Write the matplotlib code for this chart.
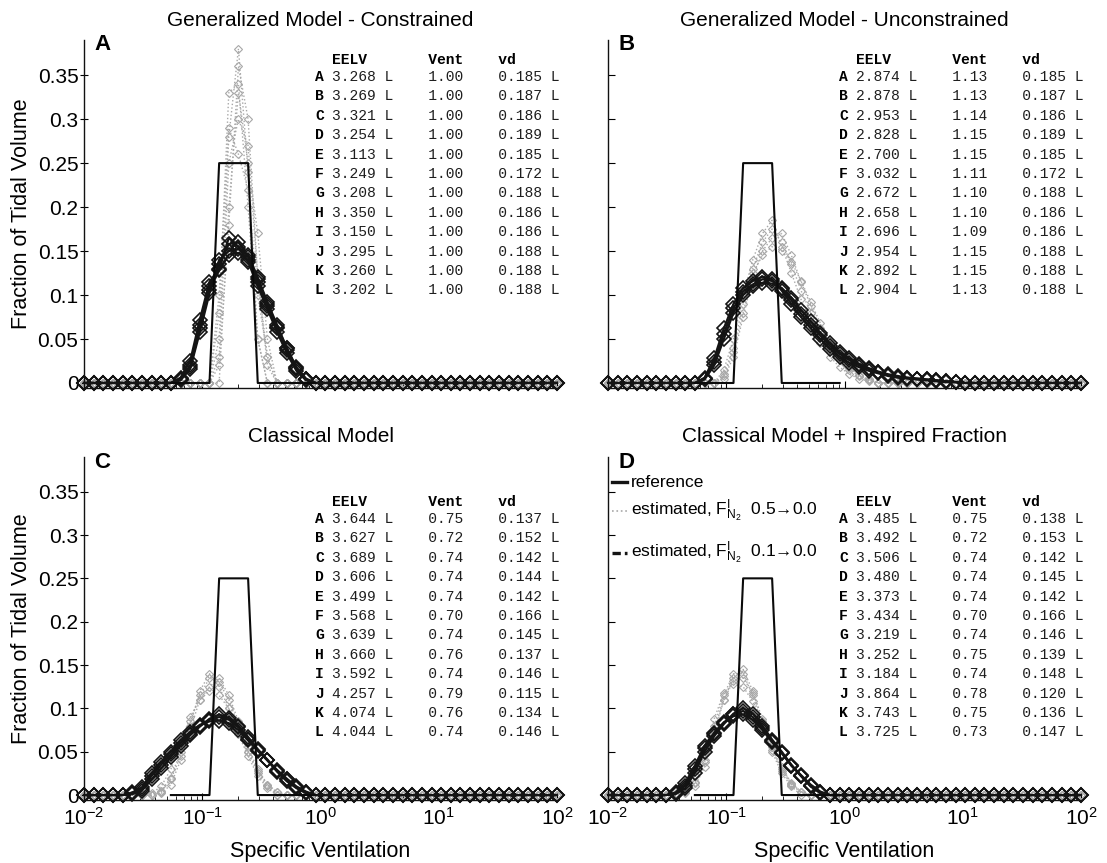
import numpy as np
import matplotlib
matplotlib.use("Agg")
import matplotlib.pyplot as plt
from matplotlib.lines import Line2D
from matplotlib.ticker import FixedLocator, LogLocator, NullFormatter

plt.rcParams["font.family"] = ["Liberation Sans", "DejaVu Sans"]
plt.rcParams["mathtext.fontset"] = "custom"
plt.rcParams["mathtext.rm"] = "Liberation Sans"
plt.rcParams["mathtext.it"] = "Liberation Sans:italic"
plt.rcParams["mathtext.bf"] = "Liberation Sans:bold"

# ---------------------------------------------------------------- data
# compartment grid of specific ventilation (log spaced)
ventilation = np.logspace(-2, 2, 50)

# true distribution, listed from compartment 9 onwards
reference_start = 9
reference_values = [0, 0, 0, 0, 0, 0.25, 0.25, 0.25, 0.25, 0, 0, 0, 0, 0, 0, 0]

cases = ["A", "B", "C", "D", "E", "F", "G", "H", "I", "J", "K", "L"]

# Generalized model - constrained
a_dark_start = 10
a_dark = [
    [0.005, 0.020, 0.066, 0.110, 0.135, 0.158, 0.160, 0.143, 0.115, 0.088, 0.062, 0.038, 0.016, 0.004],
    [0.003, 0.016, 0.058, 0.102, 0.140, 0.150, 0.152, 0.146, 0.120, 0.092, 0.066, 0.040, 0.018, 0.005],
    [0.006, 0.025, 0.072, 0.115, 0.130, 0.165, 0.155, 0.138, 0.110, 0.084, 0.058, 0.034, 0.014, 0.003],
    [0.004, 0.018, 0.062, 0.106, 0.128, 0.146, 0.148, 0.140, 0.118, 0.090, 0.064, 0.040, 0.017, 0.004],
]
a_gray_start = 12
a_gray = [
    [0.0, 0.0, 0.05, 0.28, 0.38, 0.24, 0.05, 0.0, 0.0],
    [0.0, 0.0, 0.08, 0.33, 0.34, 0.20, 0.05, 0.0, 0.0],
    [0.0, 0.0, 0.03, 0.25, 0.30, 0.27, 0.12, 0.03, 0.0],
    [0.0, 0.0, 0.10, 0.29, 0.26, 0.22, 0.10, 0.03, 0.0],
    [0.0, 0.0, 0.02, 0.18, 0.36, 0.30, 0.12, 0.02, 0.0],
    [0.0, 0.0, 0.00, 0.20, 0.33, 0.25, 0.17, 0.05, 0.0],
]
a_eelv = [3.268, 3.269, 3.321, 3.254, 3.113, 3.249, 3.208, 3.350, 3.150, 3.295, 3.260, 3.202]
a_vent = [1.00, 1.00, 1.00, 1.00, 1.00, 1.00, 1.00, 1.00, 1.00, 1.00, 1.00, 1.00]
a_vd = [0.185, 0.187, 0.186, 0.189, 0.185, 0.172, 0.188, 0.186, 0.186, 0.188, 0.188, 0.188]

# Generalized model - unconstrained
b_dark_start = 10
b_dark = [
    [0.005, 0.024, 0.056, 0.085, 0.104, 0.112, 0.118, 0.116, 0.107, 0.094, 0.079, 0.066, 0.054, 0.042,
     0.033, 0.026, 0.020, 0.016, 0.012, 0.009, 0.007, 0.006, 0.005, 0.004, 0.003, 0.002, 0.001],
    [0.004, 0.020, 0.050, 0.080, 0.100, 0.110, 0.114, 0.113, 0.108, 0.097, 0.083, 0.070, 0.057, 0.045,
     0.035, 0.028, 0.022, 0.017, 0.013, 0.010, 0.008, 0.006, 0.005, 0.004, 0.003, 0.002, 0.001],
    [0.006, 0.028, 0.062, 0.090, 0.108, 0.116, 0.121, 0.118, 0.105, 0.090, 0.075, 0.062, 0.050, 0.039,
     0.030, 0.023, 0.018, 0.014, 0.011, 0.008, 0.006, 0.005, 0.004, 0.003, 0.002, 0.001, 0.001],
]
b_gray_start = 11
b_gray = [
    [0.0, 0.010, 0.040, 0.090, 0.130, 0.160, 0.175, 0.160, 0.135, 0.105, 0.080, 0.058, 0.040, 0.026, 0.015, 0.008, 0.003],
    [0.0, 0.005, 0.030, 0.075, 0.120, 0.150, 0.165, 0.170, 0.145, 0.115, 0.088, 0.062, 0.043, 0.028, 0.017, 0.009, 0.004],
    [0.0, 0.015, 0.050, 0.100, 0.140, 0.170, 0.185, 0.155, 0.125, 0.095, 0.068, 0.046, 0.030, 0.018, 0.010, 0.005, 0.002],
    [0.0, 0.008, 0.035, 0.080, 0.125, 0.145, 0.155, 0.150, 0.138, 0.116, 0.092, 0.068, 0.047, 0.030, 0.018, 0.009, 0.004],
]
b_eelv = [2.874, 2.878, 2.953, 2.828, 2.700, 3.032, 2.672, 2.658, 2.696, 2.954, 2.892, 2.904]
b_vent = [1.13, 1.13, 1.14, 1.15, 1.15, 1.11, 1.10, 1.10, 1.09, 1.15, 1.15, 1.13]
b_vd = [0.185, 0.187, 0.186, 0.189, 0.185, 0.172, 0.188, 0.186, 0.186, 0.188, 0.188, 0.188]

# Classical model
c_dark_start = 5
c_dark = [
    [0.002, 0.007, 0.022, 0.035, 0.047, 0.060, 0.071, 0.080, 0.087, 0.090, 0.087, 0.078, 0.065, 0.052, 0.041, 0.028, 0.018, 0.009, 0.003],
    [0.001, 0.005, 0.018, 0.031, 0.044, 0.057, 0.069, 0.079, 0.088, 0.093, 0.089, 0.080, 0.067, 0.053, 0.040, 0.027, 0.016, 0.008, 0.002],
    [0.003, 0.009, 0.025, 0.038, 0.050, 0.063, 0.073, 0.081, 0.085, 0.086, 0.083, 0.075, 0.063, 0.051, 0.040, 0.029, 0.019, 0.010, 0.004],
]
c_gray_start = 7
c_gray = [
    [0.0, 0.005, 0.020, 0.050, 0.085, 0.115, 0.135, 0.130, 0.110, 0.080, 0.050, 0.025, 0.010, 0.0],
    [0.0, 0.002, 0.012, 0.040, 0.075, 0.110, 0.125, 0.135, 0.115, 0.085, 0.055, 0.030, 0.012, 0.003],
    [0.002, 0.010, 0.030, 0.060, 0.090, 0.110, 0.120, 0.115, 0.100, 0.075, 0.050, 0.028, 0.012, 0.004],
    [0.0, 0.004, 0.018, 0.045, 0.080, 0.120, 0.140, 0.125, 0.100, 0.070, 0.045, 0.022, 0.008, 0.0],
]
c_eelv = [3.644, 3.627, 3.689, 3.606, 3.499, 3.568, 3.639, 3.660, 3.592, 4.257, 4.074, 4.044]
c_vent = [0.75, 0.72, 0.74, 0.74, 0.74, 0.70, 0.74, 0.76, 0.74, 0.79, 0.76, 0.74]
c_vd = [0.137, 0.152, 0.142, 0.144, 0.142, 0.166, 0.145, 0.137, 0.146, 0.115, 0.134, 0.146]

# Classical model + inspired fraction
d_dark_start = 7
d_dark = [
    [0.002, 0.011, 0.030, 0.054, 0.070, 0.083, 0.093, 0.097, 0.090, 0.077, 0.062, 0.049, 0.034, 0.022, 0.010, 0.003],
    [0.001, 0.008, 0.026, 0.050, 0.068, 0.082, 0.094, 0.100, 0.094, 0.080, 0.064, 0.050, 0.035, 0.022, 0.010, 0.002],
    [0.003, 0.014, 0.034, 0.057, 0.072, 0.084, 0.091, 0.093, 0.087, 0.075, 0.061, 0.048, 0.034, 0.023, 0.012, 0.004],
]
d_gray_start = 7
d_gray = [
    [0.0, 0.005, 0.015, 0.040, 0.080, 0.115, 0.140, 0.140, 0.115, 0.080, 0.050, 0.025, 0.010, 0.0],
    [0.0, 0.002, 0.010, 0.032, 0.070, 0.110, 0.135, 0.145, 0.120, 0.085, 0.055, 0.028, 0.012, 0.003],
    [0.002, 0.008, 0.022, 0.050, 0.088, 0.118, 0.128, 0.125, 0.108, 0.080, 0.052, 0.030, 0.013, 0.004],
    [0.0, 0.004, 0.014, 0.038, 0.075, 0.110, 0.132, 0.135, 0.118, 0.088, 0.058, 0.032, 0.014, 0.004],
]
d_eelv = [3.485, 3.492, 3.506, 3.480, 3.373, 3.434, 3.219, 3.252, 3.184, 3.864, 3.743, 3.725]
d_vent = [0.75, 0.72, 0.74, 0.74, 0.74, 0.70, 0.74, 0.75, 0.74, 0.78, 0.75, 0.73]
d_vd = [0.138, 0.153, 0.142, 0.145, 0.142, 0.166, 0.146, 0.139, 0.148, 0.120, 0.136, 0.147]

y_ticks = [0, 0.05, 0.1, 0.15, 0.2, 0.25, 0.3, 0.35]
y_tick_labels = ["0", "0.05", "0.1", "0.15", "0.2", "0.25", "0.3", "0.35"]

# ---------------------------------------------------------------- layout
W, H = 1107, 863
fig = plt.figure(figsize=(W / 100, H / 100), dpi=100)
fig.patch.set_facecolor("white")

DARK = "#141414"
GRAY = "#a8a8a8"
MONO = "Liberation Mono"
TABLE_PT = 10.5
CHAR_PX = 0.6 * TABLE_PT * 100 / 72


def fx(x):
    return x / W


def fy(y):
    return 1 - y / H


def full_profile(start, values):
    y = np.zeros(ventilation.size)
    y[start:start + len(values)] = values
    return y


panels = [
    dict(letter="A", title="Generalized Model - Constrained", box=(84, 40, 557, 388),
         dark=a_dark, dark_start=a_dark_start, gray=a_gray, gray_start=a_gray_start,
         eelv=a_eelv, vent=a_vent, vd=a_vd, left=True, bottom=False),
    dict(letter="B", title="Generalized Model - Unconstrained", box=(608, 40, 1081, 388),
         dark=b_dark, dark_start=b_dark_start, gray=b_gray, gray_start=b_gray_start,
         eelv=b_eelv, vent=b_vent, vd=b_vd, left=False, bottom=False),
    dict(letter="C", title="Classical Model", box=(84, 457, 557, 800),
         dark=c_dark, dark_start=c_dark_start, gray=c_gray, gray_start=c_gray_start,
         eelv=c_eelv, vent=c_vent, vd=c_vd, left=True, bottom=True),
    dict(letter="D", title="Classical Model + Inspired Fraction", box=(608, 457, 1081, 800),
         dark=d_dark, dark_start=d_dark_start, gray=d_gray, gray_start=d_gray_start,
         eelv=d_eelv, vent=d_vent, vd=d_vd, left=False, bottom=True),
]

for p in panels:
    x0, y0, x1, y1 = p["box"]
    ax = fig.add_axes([fx(x0), fy(y1), (x1 - x0) / W, (y1 - y0) / H])

    for vals in p["gray"]:
        ax.plot(ventilation, full_profile(p["gray_start"], vals), ls=":", lw=1.0, color=GRAY,
                marker="D", ms=3.6, mfc="none", mec=GRAY, mew=0.8, clip_on=False, zorder=2)
    for vals in p["dark"]:
        ax.plot(ventilation, full_profile(p["dark_start"], vals), ls="-", lw=1.6, color=DARK,
                marker="D", ms=7, mfc="none", mec=DARK, mew=1.2, clip_on=False, zorder=3)
    ref_x = ventilation[reference_start:reference_start + len(reference_values)]
    ax.plot(ref_x, reference_values, color="#0a0a0a", lw=1.5, zorder=4)

    ax.set_xscale("log")
    ax.set_xlim(1e-2, 1e2)
    ax.set_ylim(-0.0057, 0.39)
    for side in ("top", "right"):
        ax.spines[side].set_visible(False)
    for side in ("left", "bottom"):
        ax.spines[side].set_linewidth(1.0)
        ax.spines[side].set_color("#111111")

    ax.xaxis.set_major_locator(FixedLocator([1e-2, 1e-1, 1e0, 1e1, 1e2]))
    ax.xaxis.set_minor_locator(LogLocator(base=10, subs=np.arange(2, 10)))
    ax.xaxis.set_minor_formatter(NullFormatter())
    ax.tick_params(axis="x", which="major", direction="in", length=5, width=0.8, labelsize=15, pad=5)
    ax.tick_params(axis="x", which="minor", direction="in", length=3, width=0.6)
    if not p["bottom"]:
        ax.xaxis.set_major_formatter(NullFormatter())

    ax.set_yticks(y_ticks)
    if p["left"]:
        ax.set_yticklabels(y_tick_labels)
        ax.tick_params(axis="y", direction="inout", length=6, width=0.8, labelsize=15, pad=1)
    else:
        ax.set_yticklabels([])
        ax.tick_params(axis="y", direction="in", length=5, width=0.8)

    cx = (x0 + x1) / 2
    fig.text(fx(cx), fy(y0 - 20 if y0 < 100 else y0 - 21), p["title"], ha="center", va="center", fontsize=15)
    fig.text(fx(x0 + 10), fy(y0 + 5), p["letter"], ha="left", va="center", fontsize=16, fontweight="bold")

    if p["left"]:
        fig.text(fx(22), fy((y0 + y1) / 2), "Fraction of Tidal Volume", rotation=90,
                 ha="center", va="center", fontsize=15.5)
    if p["bottom"]:
        fig.text(fx(cx), fy(851), "Specific Ventilation", ha="center", va="center", fontsize=15.5)

    # parameter table
    tx = x0 + 231
    row_y0 = y0 + 37 if y0 < 100 else y0 + 62
    head_y = row_y0 - 17
    fig.text(fx(tx + 2 * CHAR_PX), fy(head_y), "EELV       Vent    vd", ha="left", va="center",
             family=MONO, fontsize=TABLE_PT, fontweight="bold")
    for i, case in enumerate(cases):
        ry = row_y0 + 19.4 * i
        fig.text(fx(tx), fy(ry), case, ha="left", va="center", family=MONO,
                 fontsize=TABLE_PT, fontweight="bold")
        row = f"{p['eelv'][i]:.3f} L    {p['vent'][i]:.2f}    {p['vd'][i]:.3f} L"
        fig.text(fx(tx + 2 * CHAR_PX), fy(ry), row, ha="left", va="center", family=MONO,
                 fontsize=TABLE_PT, color="#1e1e1e")

# legend of panel D
legend_rows = [
    (482, dict(color=DARK, lw=2.4, ls="-"), "reference"),
    (511, dict(color=GRAY, lw=1.2, ls=":"), r"estimated, $\mathrm{F}^{\mathrm{I}}_{\mathrm{N}_{2}}$  0.5→0.0"),
    (553, dict(color=DARK, lw=2.4, ls="--", dashes=(2.5, 1.2)), r"estimated, $\mathrm{F}^{\mathrm{I}}_{\mathrm{N}_{2}}$  0.1→0.0"),
]
for ly, style, label in legend_rows:
    fig.add_artist(Line2D([fx(612), fx(627)], [fy(ly), fy(ly)], transform=fig.transFigure, **style))
    fig.text(fx(631), fy(ly), label, ha="left", va="center", fontsize=12.5)

fig.savefig("out.png", dpi=100, facecolor="white")
